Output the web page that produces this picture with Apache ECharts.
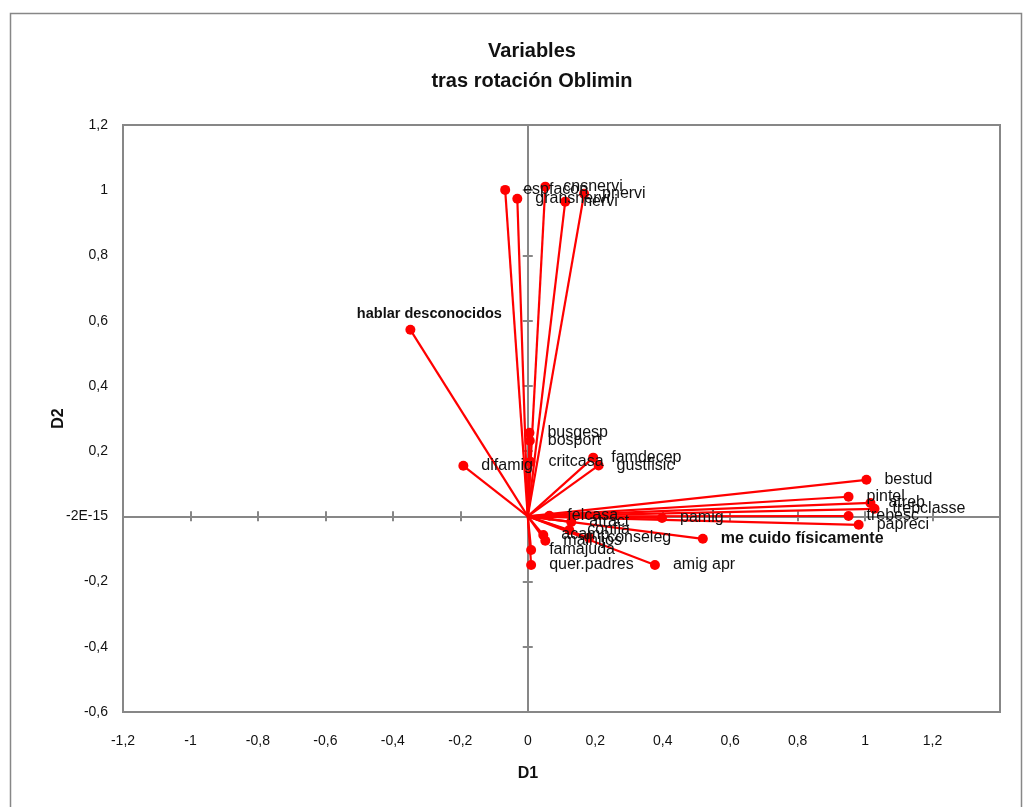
<!DOCTYPE html>
<html>
<head>
<meta charset="utf-8">
<script src="https://cdn.jsdelivr.net/npm/echarts@6/dist/echarts.min.js"></script>
<style>
  html, body { margin: 0; padding: 0; background: #fff; }
  #chart { width: 1027px; height: 807px; }
</style>
</head>
<body>
<div id="chart"></div>
<script>
// Variable loadings on the two rotated dimensions
const variables = [
  'espfacon', 'gransnervi', 'cnsnervi', 'nervi', 'pnervi',
  'hablar desconocidos', 'difamig', 'busgesp', 'bosport', 'critcasa',
  'famdecep', 'gustfisic', 'felcasa', 'atract', 'confia', 'acamp',
  'malhijos', 'conseleg', 'pamig', 'me cuido físicamente', 'famajuda',
  'quer.padres', 'amig apr', 'bestud', 'pintel', 'atreb', 'trebclasse',
  'trebesc', 'papreci'
];
const d1 = [
  -0.067, -0.031, 0.052, 0.111, 0.167,
  -0.348, -0.191, 0.005, 0.006, 0.008,
  0.194, 0.210, 0.064, 0.129, 0.123, 0.046,
  0.052, 0.182, 0.398, 0.519, 0.010,
  0.010, 0.377, 1.004, 0.951, 1.016, 1.028,
  0.951, 0.981
];
const d2 = [
  1.001, 0.974, 1.011, 0.965, 0.989,
  0.572, 0.155, 0.256, 0.232, 0.167,
  0.180, 0.156, 0.002, -0.017, -0.042, -0.057,
  -0.075, -0.066, -0.005, -0.069, -0.103,
  -0.149, -0.149, 0.112, 0.060, 0.041, 0.023,
  0.001, -0.026
];
const boldVariables = ['hablar desconocidos', 'me cuido físicamente'];
const xTicks = { min: -1.2, max: 1.4, step: 0.2 };
const yTicks = { min: -0.6, max: 1.2, step: 0.2 };

const FONT = 'Liberation Sans, Arial, sans-serif';
const RED = '#ff0000';
const GREY = '#878787';

const fmt = v => {
  const r = Math.round(v * 10) / 10;
  return String(r).replace('.', ',');
};

const series = variables.map((name, i) => {
  const bold = boldVariables.includes(name);
  const endLabel = {
    show: true,
    formatter: name,
    position: 'right',
    distance: 13,
    color: '#111',
    fontFamily: FONT,
    fontSize: 16,
    fontWeight: bold ? 'bold' : 'normal'
  };
  if (name === 'hablar desconocidos') {
    endLabel.position = 'top';
    endLabel.distance = 3;
    endLabel.offset = [19, 0];
    endLabel.fontSize = 14.5;
  }
  return {
    type: 'line',
    name: name,
    silent: true,
    z: 5,
    symbol: 'circle',
    showSymbol: true,
    lineStyle: { color: RED, width: 2.2 },
    itemStyle: { color: RED },
    data: [
      { value: [0, 0], symbolSize: 0, label: { show: false } },
      { value: [d1[i], d2[i]], symbolSize: 10, label: endLabel }
    ]
  };
});

// Axis that only carries the tick labels at the plot edge
const edgeX = {
  type: 'value', min: xTicks.min, max: xTicks.max, interval: xTicks.step,
  position: 'bottom',
  axisLine: { show: false, onZero: false }, axisTick: { show: false },
  splitLine: { show: false },
  axisLabel: {
    color: '#111', fontFamily: FONT, fontSize: 14, margin: 22,
    formatter: v => (v > 1.3 ? '' : fmt(v))
  },
  name: 'D1', nameLocation: 'middle', nameGap: 54,
  nameTextStyle: { color: '#111', fontFamily: FONT, fontSize: 16, fontWeight: 'bold', padding: [0, 67, 0, 0] }
};
const edgeY = {
  type: 'value', min: yTicks.min, max: yTicks.max, interval: yTicks.step,
  position: 'left',
  axisLine: { show: false, onZero: false }, axisTick: { show: false },
  splitLine: { show: false },
  axisLabel: {
    color: '#111', fontFamily: FONT, fontSize: 14, margin: 15,
    formatter: v => (Math.abs(v) < 1e-9 ? '-2E-15' : fmt(v))
  },
  name: 'D2', nameLocation: 'middle', nameGap: 56, nameRotate: 90,
  nameMoveOverlap: false,
  nameTextStyle: { color: '#111', fontFamily: FONT, fontSize: 16, fontWeight: 'bold' }
};
// Zero-crossing axes: one draws ticks to each side so they cross the line
const zeroX = inside => ({
  type: 'value', min: xTicks.min, max: xTicks.max, interval: xTicks.step,
  position: 'bottom',
  axisLine: { show: true, onZero: true, lineStyle: { color: GREY, width: 2 } },
  axisTick: { show: true, inside: inside, length: 5, lineStyle: { color: GREY, width: 2 } },
  axisLabel: { show: false }, splitLine: { show: false }
});
const zeroY = inside => ({
  type: 'value', min: yTicks.min, max: yTicks.max, interval: yTicks.step,
  position: 'left',
  axisLine: { show: true, onZero: true, lineStyle: { color: GREY, width: 2 } },
  axisTick: { show: true, inside: inside, length: 5, lineStyle: { color: GREY, width: 2 } },
  axisLabel: { show: false }, splitLine: { show: false }
});

const chart = echarts.init(document.getElementById('chart'), null, { renderer: 'canvas' });
chart.setOption({
  animation: false,
  backgroundColor: '#fff',
  title: {
    text: 'Variables\ntras rotación Oblimin',
    left: 527, top: 31, textAlign: 'center',
    textStyle: { fontFamily: FONT, fontSize: 20, fontWeight: 'bold', color: '#111', lineHeight: 30 }
  },
  graphic: [{
    type: 'rect', silent: true, z: -10,
    shape: { x: 10.5, y: 13.5, width: 1011, height: 805 },
    style: { fill: 'none', stroke: GREY, lineWidth: 1.5 }
  }],
  grid: {
    left: 123, top: 125, right: 27, bottom: 95,
    show: true, borderColor: GREY, borderWidth: 2, backgroundColor: 'transparent'
  },
  xAxis: [edgeX, zeroX(true), zeroX(false)],
  yAxis: [edgeY, zeroY(true), zeroY(false)],
  series: series
});
</script>
</body>
</html>
